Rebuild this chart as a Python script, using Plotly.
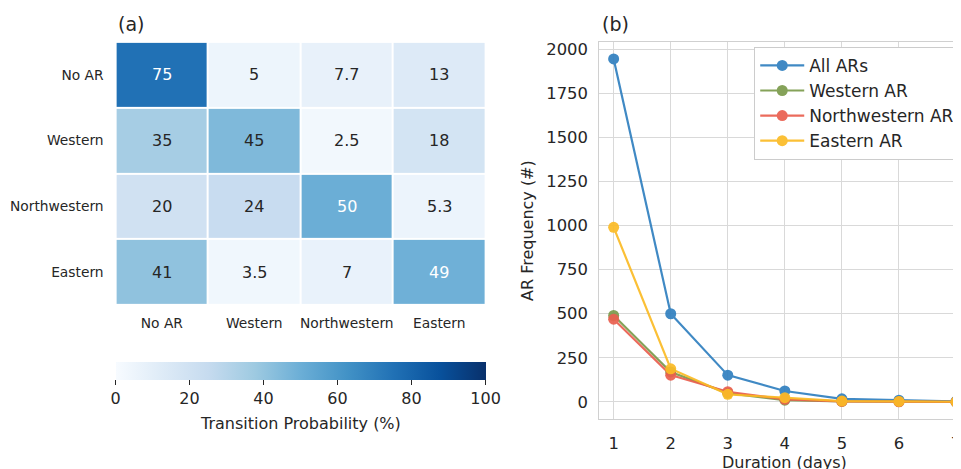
import plotly.graph_objects as go
from plotly.colors import sequential

# ---------------- data ----------------
regimes = ["No AR", "Western", "Northwestern", "Eastern"]
prob_no_ar = [75, 5, 7.7, 13]
prob_western = [35, 45, 2.5, 18]
prob_northwestern = [20, 24, 50, 5.3]
prob_eastern = [41, 3.5, 7, 49]
cbar_ticks = [0, 20, 40, 60, 80, 100]

duration_days = [1, 2, 3, 4, 5, 6, 7]
freq_all = [1944, 500, 152, 62, 18, 10, 3]
freq_western = [490, 170, 50, 10, 3, 2, 0]
freq_northwestern = [469, 152, 58, 15, 3, 1, 0]
freq_eastern = [990, 188, 43, 24, 5, 3, 1]
y_ticks = [0, 250, 500, 750, 1000, 1250, 1500, 1750, 2000]

W, H = 961, 469
OFF = 8  # page body margin offset
FONT = "DejaVu Sans"
DARK = "#262626"
BLUES = sequential.Blues


def px_x(p):
    return (p - OFF) / W


def px_y(p):
    return 1 - (p - OFF) / H


def blues_rgb(v):
    t = max(0.0, min(1.0, v / 100.0)) * (len(BLUES) - 1)
    i = min(int(t), len(BLUES) - 2)
    f = t - i
    a = [float(c) for c in BLUES[i][4:-1].split(",")]
    b = [float(c) for c in BLUES[i + 1][4:-1].split(",")]
    return [a[k] + (b[k] - a[k]) * f for k in range(3)]


def rel_lum(rgb):
    out = []
    for c in rgb:
        c = c / 255.0
        out.append(c / 12.92 if c <= 0.03928 else ((c + 0.055) / 1.055) ** 2.4)
    return 0.2126 * out[0] + 0.7152 * out[1] + 0.0722 * out[2]


z = [prob_no_ar, prob_western, prob_northwestern, prob_eastern]

fig = go.Figure()

fig.add_trace(go.Heatmap(
    z=z, x=regimes, y=regimes,
    colorscale=[[i / (len(BLUES) - 1), c] for i, c in enumerate(BLUES)],
    zmin=0, zmax=100, xgap=2, ygap=2,
    xaxis="x", yaxis="y", hoverinfo="z",
    colorbar=dict(
        orientation="h", x=px_x((115.7 + 486) / 2), xanchor="center",
        y=px_y(362), yanchor="top", len=(486 - 115.7) / W, lenmode="fraction",
        thickness=18, thicknessmode="pixels", outlinewidth=0, xpad=0, ypad=0,
        ticks="outside", ticklen=5, tickwidth=1.2, tickcolor=DARK,
        tickvals=cbar_ticks, tickfont=dict(size=16, color=DARK, family=FONT),
    ),
))

annotations = []
for r, row in zip(regimes, z):
    for c, v in zip(regimes, row):
        col = DARK if rel_lum(blues_rgb(v)) > 0.408 else "white"
        annotations.append(dict(x=c, y=r, xref="x", yref="y", text=f"{v:g}",
                                showarrow=False,
                                font=dict(size=16, color=col, family=FONT)))

series = [
    ("All ARs", freq_all, "#3080c0"),
    ("Western AR", freq_western, "#7b9b4b"),
    ("Northwestern AR", freq_northwestern, "#ea5f4f"),
    ("Eastern AR", freq_eastern, "#fbbb25"),
]
for name, vals, color in series:
    fig.add_trace(go.Scatter(
        x=duration_days, y=vals, name=name, mode="lines+markers",
        line=dict(color=color, width=2.2),
        marker=dict(color=color, size=11),
        opacity=0.92, xaxis="x2", yaxis="y2", cliponaxis=False,
    ))

annotations += [
    dict(x=px_x(116), y=px_y(22), xref="paper", yref="paper", text="(a)",
         showarrow=False, xanchor="left", yanchor="middle",
         font=dict(size=19, color=DARK, family=FONT)),
    dict(x=px_x(601), y=px_y(22), xref="paper", yref="paper", text="(b)",
         showarrow=False, xanchor="left", yanchor="middle",
         font=dict(size=19, color=DARK, family=FONT)),
    dict(x=px_x(301), y=px_y(423), xref="paper", yref="paper",
         text="Transition Probability (%)", showarrow=False,
         xanchor="center", yanchor="middle",
         font=dict(size=16, color=DARK, family=FONT)),
    dict(x=px_x(528), y=px_y(229.5), xref="paper", yref="paper",
         text="AR Frequency (#)", textangle=-90, showarrow=False,
         xanchor="center", yanchor="middle",
         font=dict(size=16, color=DARK, family=FONT)),
    dict(x=px_x(785), y=px_y(462), xref="paper", yref="paper",
         text="Duration (days)", showarrow=False,
         xanchor="center", yanchor="middle",
         font=dict(size=16, color=DARK, family=FONT)),
]

GRID = "#d9d9d9"
fig.update_layout(
    width=W, height=H,
    margin=dict(l=0, r=0, t=0, b=0),
    paper_bgcolor="white", plot_bgcolor="white",
    font=dict(family=FONT, color=DARK),
    showlegend=True,
    xaxis=dict(domain=[px_x(115.7), px_x(486)], anchor="y",
               type="category", categoryorder="array", categoryarray=regimes,
               showgrid=False, zeroline=False, showline=False, ticks="",
               ticklabelstandoff=8,
               tickfont=dict(size=13.8, color=DARK, family=FONT)),
    yaxis=dict(domain=[px_y(304.3), px_y(40)], anchor="x",
               type="category", categoryorder="array", categoryarray=regimes,
               autorange="reversed",
               showgrid=False, zeroline=False, showline=False, ticks="",
               ticklabelstandoff=11,
               tickfont=dict(size=13.8, color=DARK, family=FONT)),
    xaxis2=dict(domain=[px_x(600), px_x(961)], anchor="y2", range=[0.75, 7.07],
                tickvals=duration_days, showgrid=True, gridcolor=GRID,
                gridwidth=1.3, zeroline=False, showline=True, linecolor="#d0d0d0",
                linewidth=1.3, mirror=True, ticks="", ticklabelstandoff=9,
                tickfont=dict(size=16.4, color=DARK, family=FONT)),
    yaxis2=dict(domain=[px_y(419), px_y(40)], anchor="x2", range=[-98, 2041],
                tickvals=y_ticks, showgrid=True, gridcolor=GRID,
                gridwidth=1.3, zeroline=False, showline=True, linecolor="#d0d0d0",
                linewidth=1.3, mirror=True, ticks="", ticklabelstandoff=7,
                tickfont=dict(size=16.4, color=DARK, family=FONT)),
    legend=dict(x=px_x(755), y=px_y(45), xanchor="left", yanchor="top",
                bgcolor="white", bordercolor="#cccccc", borderwidth=1,
                font=dict(size=17, color=DARK, family=FONT),
                itemwidth=44, tracegroupgap=0),
    annotations=annotations,
)

fig.write_html("out.html")
